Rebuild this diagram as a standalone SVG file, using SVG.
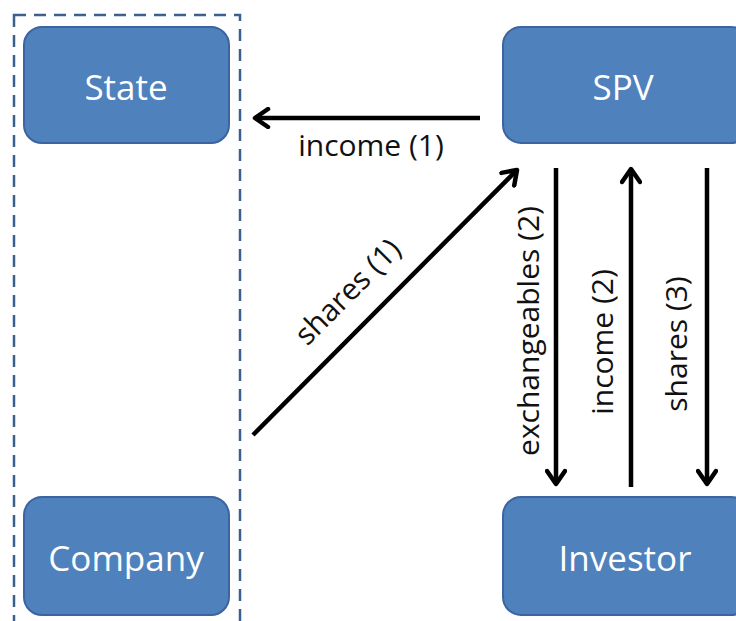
<svg xmlns="http://www.w3.org/2000/svg" width="736" height="621" viewBox="0 0 736 621">
<style>
.node{fill:#4f81bd;stroke:#3b64a0;stroke-width:2}
.nl{fill:#ffffff;font-family:"Open Sans",sans-serif;font-size:35px;text-anchor:middle}
.el{fill:#111111;font-family:"Open Sans",sans-serif;font-size:30px;text-anchor:middle}
.c{stroke:#000;stroke-width:4.5;fill:none}
</style>
<defs>
<marker id="ah" viewBox="0 0 22 22" refX="19" refY="11" markerWidth="22" markerHeight="22" orient="auto" markerUnits="userSpaceOnUse">
<path d="M6,2 L19,11 L6,20" fill="none" stroke="#000" stroke-width="4.5" stroke-linecap="round" stroke-linejoin="round"/>
</marker>
</defs>
<rect x="14" y="15" width="226" height="640" fill="none" stroke="#3b5f8f" stroke-width="2.5" stroke-dasharray="12 8"/>
<g id="state"><rect class="node" x="24" y="27" width="205" height="116" rx="18"/><text class="nl" x="126" y="100">State</text></g>
<g id="spv"><rect class="node" x="503" y="27" width="246" height="116" rx="18"/><text class="nl" x="623" y="100">SPV</text></g>
<g id="company"><rect class="node" x="24" y="497" width="205" height="118" rx="18"/><text class="nl" x="126" y="571">Company</text></g>
<g id="investor"><rect class="node" x="503" y="497" width="246" height="118" rx="18"/><text class="nl" x="625" y="571">Investor</text></g>
<g id="connectors">
<line class="c" x1="480" y1="118" x2="255" y2="118" marker-end="url(#ah)"/>
<text class="el" x="371" y="156">income (1)</text>
<line class="c" x1="253" y1="435" x2="517" y2="170" marker-end="url(#ah)"/>
<text class="el" transform="translate(355,299) rotate(-45)">shares (1)</text>
<line class="c" x1="556" y1="168" x2="556" y2="484" marker-end="url(#ah)"/>
<text class="el" transform="translate(539,331) rotate(-90)">exchangeables (2)</text>
<line class="c" x1="631" y1="487" x2="631" y2="169" marker-end="url(#ah)"/>
<text class="el" transform="translate(613,342) rotate(-90)">income (2)</text>
<line class="c" x1="707" y1="168" x2="707" y2="484" marker-end="url(#ah)"/>
<text class="el" transform="translate(687,344) rotate(-90)">shares (3)</text>
</g>
</svg>
